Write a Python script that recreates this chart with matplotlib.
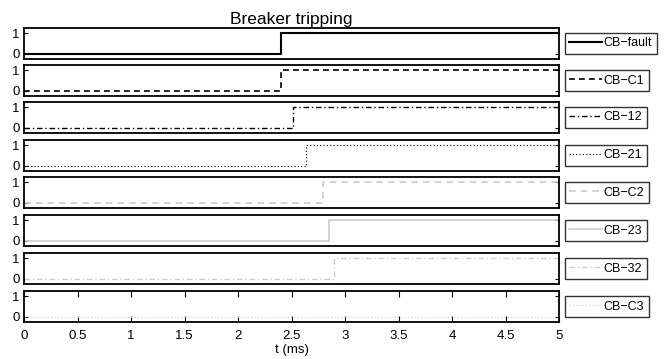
import matplotlib
matplotlib.use("Agg")
import matplotlib.pyplot as plt
import numpy as np

plt.rcParams['font.family'] = ['Liberation Sans', 'DejaVu Sans']

labels = ["CB\u2212fault", "CB\u2212C1", "CB\u221212", "CB\u221221",
          "CB\u2212C2", "CB\u221223", "CB\u221232", "CB\u2212C3"]
trip_times = [2.40, 2.40, 2.51, 2.64, 2.79, 2.85, 2.90, None]
t_end = 5.0
xticks = [0, 0.5, 1, 1.5, 2, 2.5, 3, 3.5, 4, 4.5, 5]
xticklabels = ["0", "0.5", "1", "1.5", "2", "2.5", "3", "3.5", "4", "4.5", "5"]

gray = (0.8, 0.8, 0.8)
styles = [
    dict(color='k', ls='-', lw=1.5),
    dict(color='k', ls=(0, (3.5, 2.5)), lw=1.2),
    dict(color='k', ls=(0, (4, 2, 1, 2)), lw=1.0),
    dict(color='k', ls=(0, (1, 2)), lw=0.8),
    dict(color=gray, ls=(0, (4, 3)), lw=1.2),
    dict(color=gray, ls='-', lw=1.2),
    dict(color=gray, ls=(0, (4, 2, 1, 2)), lw=1.0),
    dict(color=gray, ls=(0, (1, 2)), lw=0.8),
]

W, H = 668, 359
fig = plt.figure(figsize=(W / 100, H / 100), dpi=100)

left, right = 24, 559
tops = [28, 65, 102, 140, 177, 215, 253, 291]
height = 31

for i, (lab, ts, st) in enumerate(zip(labels, trip_times, styles)):
    top = tops[i]
    ax = fig.add_axes([left / W, 1 - (top + height) / H, (right - left) / W, height / H])
    if ts is None:
        x = [0, t_end]
        y = [0, 0]
    else:
        x = [0, ts, t_end]
        y = [0, 1, 1]
    ax.plot(x, y, drawstyle='steps-post', label=lab, **st)
    ax.set_xlim(0, t_end)
    ax.set_ylim(-0.24, 1.24)
    ax.set_yticks([0, 1])
    ax.set_yticklabels(["0", "1"], fontsize=9.5)
    ax.tick_params(axis='y', direction='in', length=3, right=True, pad=3)
    if i == len(labels) - 1:
        ax.set_xticks(xticks)
        ax.set_xticklabels(xticklabels, fontsize=9.5)
        ax.tick_params(axis='x', direction='in', length=4, top=True, pad=6)
        ax.set_xlabel("t (ms)", fontsize=9.5, labelpad=1)
    else:
        ax.set_xticks([])
    for sp in ax.spines.values():
        sp.set_linewidth(1.3)
    if i == 0:
        ax.set_title("Breaker tripping", fontsize=12.5, pad=3)
    leg = ax.legend(loc='center left', bbox_to_anchor=(565 / W, 1 - (top + height / 2) / H),
                    bbox_transform=fig.transFigure, fontsize=9, frameon=True,
                    fancybox=False, handlelength=2.6, handletextpad=0.15,
                    borderpad=0.35, borderaxespad=0)
    leg.get_frame().set_edgecolor('k')
    leg.get_frame().set_linewidth(1.0)

fig.savefig("out.png", dpi=100)
